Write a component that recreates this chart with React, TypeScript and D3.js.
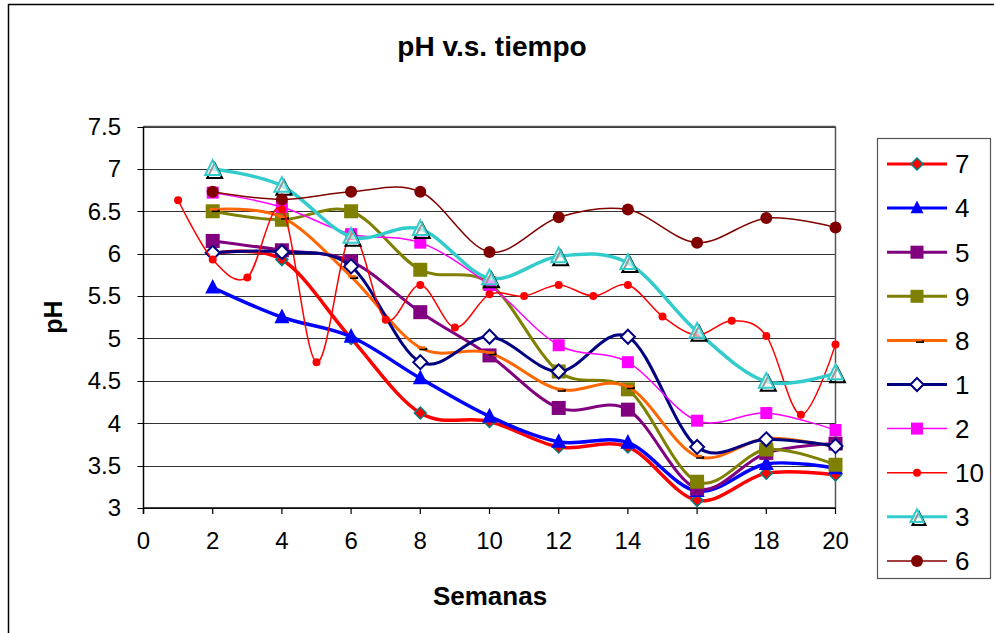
import * as d3 from "d3";

// weeks sampled for most series; series 10 was sampled every week
const weeks = [2, 4, 6, 8, 10, 12, 14, 16, 18, 20];
const weeksDaily = [1, 2, 3, 4, 5, 6, 7, 8, 9, 10, 11, 12, 13, 14, 15, 16, 17, 18, 19, 20];

const s7 = [6.0, 5.93, 5.0, 4.12, 4.02, 3.72, 3.72, 3.09, 3.41, 3.39];
const s4 = [5.6, 5.25, 5.02, 4.53, 4.08, 3.78, 3.77, 3.2, 3.52, 3.47];
const s5 = [6.15, 6.04, 5.91, 5.31, 4.8, 4.18, 4.16, 3.23, 3.65, 3.76];
const s9 = [6.5, 6.4, 6.5, 5.81, 5.65, 4.61, 4.4, 3.31, 3.69, 3.51];
const s8 = [6.52, 6.43, 5.73, 4.89, 4.83, 4.4, 4.43, 3.61, 3.82, 3.72];
const s1 = [6.01, 6.02, 5.85, 4.72, 5.02, 4.61, 5.02, 3.72, 3.81, 3.73];
const s2 = [6.72, 6.55, 6.23, 6.13, 5.63, 4.92, 4.72, 4.03, 4.12, 3.92];
const s10 = [6.63, 5.93, 5.72, 6.52, 4.72, 6.21, 5.22, 5.63, 5.13, 5.52, 5.5, 5.63, 5.5, 5.63, 5.26, 5.04, 5.21, 5.03, 4.1, 4.93];
const s3 = [7.0, 6.8, 6.2, 6.29, 5.71, 5.97, 5.89, 5.08, 4.49, 4.59];
const s6 = [6.73, 6.64, 6.73, 6.73, 6.02, 6.43, 6.52, 6.13, 6.42, 6.31];

const xTicks = [0, 2, 4, 6, 8, 10, 12, 14, 16, 18, 20];
const yTicks = [3, 3.5, 4, 4.5, 5, 5.5, 6, 6.5, 7, 7.5];

type Marker = "diamond" | "triangle" | "square" | "dash" | "openDiamond" | "circle" | "openTriangle";

interface Series {
  name: string;
  xs: number[];
  ys: number[];
  color: string;
  width: number;
  marker: Marker;
  size: number;
}

const series: Series[] = [
  { name: "7", xs: weeks, ys: s7, color: "#FF0000", width: 3.5, marker: "diamond", size: 12 },
  { name: "4", xs: weeks, ys: s4, color: "#0000FF", width: 3.5, marker: "triangle", size: 15 },
  { name: "5", xs: weeks, ys: s5, color: "#800080", width: 3, marker: "square", size: 14 },
  { name: "9", xs: weeks, ys: s9, color: "#808000", width: 3, marker: "square", size: 14 },
  { name: "8", xs: weeks, ys: s8, color: "#FF6600", width: 3, marker: "dash", size: 8 },
  { name: "1", xs: weeks, ys: s1, color: "#000080", width: 3, marker: "openDiamond", size: 14 },
  { name: "2", xs: weeks, ys: s2, color: "#FF00FF", width: 1.5, marker: "square", size: 12 },
  { name: "10", xs: weeksDaily, ys: s10, color: "#FF0000", width: 1.5, marker: "circle", size: 8 },
  { name: "3", xs: weeks, ys: s3, color: "#33CCCC", width: 3.5, marker: "openTriangle", size: 15 },
  { name: "6", xs: weeks, ys: s6, color: "#800000", width: 1.5, marker: "circle", size: 12 },
];

const W = 994;
const H = 633;
const plot = { left: 143.5, right: 835.5, top: 126.5, bottom: 508 };

function triPath(s: number) {
  return `M0,${-s * 0.58}L${s / 2},${s * 0.4}L${-s / 2},${s * 0.4}Z`;
}
function diaPath(s: number) {
  const h = s / 2;
  return `M0,${-h}L${h},0L0,${h}L${-h},0Z`;
}

function MarkerShape({ s, cx, cy }: { s: Series; cx: number; cy: number }) {
  const t = `translate(${cx},${cy})`;
  switch (s.marker) {
    case "diamond":
      return <path transform={t} d={diaPath(s.size)} fill="#FF0000" stroke="#008080" strokeWidth={1.5} />;
    case "triangle":
      return <path transform={t} d={triPath(s.size)} fill={s.color} />;
    case "square":
      return <rect x={cx - s.size / 2} y={cy - s.size / 2} width={s.size} height={s.size} fill={s.color} />;
    case "dash":
      return (
        <g transform={t}>
          <rect x={-1} y={0} width={s.size} height={2.5} fill="#000" />
          <rect x={-3} y={-1.5} width={s.size} height={2.5} fill={s.color} />
        </g>
      );
    case "openDiamond":
      return <path transform={t} d={diaPath(s.size)} fill="#fff" stroke={s.color} strokeWidth={2} />;
    case "circle":
      return <circle cx={cx} cy={cy} r={s.size / 2} fill={s.color} />;
    case "openTriangle":
      return (
        <g transform={t}>
          <path transform="translate(2,3)" d={triPath(s.size)} fill="none" stroke="#000" strokeWidth={2} />
          <path d={triPath(s.size)} fill="#fff" fillOpacity={0.6} stroke={s.color} strokeWidth={2} />
        </g>
      );
  }
}

export default function App() {
  const x = d3.scaleLinear().domain([0, 20]).range([plot.left, plot.right]);
  const y = d3.scaleLinear().domain([3, 7.5]).range([plot.bottom, plot.top]);

  const line = d3
    .line<[number, number]>()
    .x((d) => x(d[0]))
    .y((d) => y(d[1]))
    .curve(d3.curveCardinal.tension(0));

  const font = "Arial, 'Liberation Sans', sans-serif";
  const legendX = 877;
  const legendTop = 138;
  const rowH = 44.1;

  return (
    <svg
      width={W}
      height={H}
      style={{ position: "absolute", left: 0, top: 0, background: "#fff" }}
      fontFamily={font}
    >
      <rect x={0} y={0} width={W} height={H} fill="#fff" />
      <rect x={8.5} y={4.5} width={W + 20} height={H + 20} fill="none" stroke="#000" strokeWidth={1.5} />

      <text x={492} y={56} textAnchor="middle" fontSize={28} fontWeight="bold">
        pH v.s. tiempo
      </text>

      {/* grid */}
      {yTicks.map((t) => (
        <line key={t} x1={plot.left} x2={plot.right} y1={Math.round(y(t)) + 0.5} y2={Math.round(y(t)) + 0.5} stroke="#333" strokeWidth={1} />
      ))}
      <line x1={plot.right} x2={plot.right} y1={plot.top} y2={plot.bottom} stroke="#555" strokeWidth={1.5} />
      <line x1={plot.left} x2={plot.right} y1={plot.top} y2={plot.top} stroke="#555" strokeWidth={1.5} />

      {/* axes */}
      <line x1={plot.left} x2={plot.left} y1={plot.top} y2={plot.bottom + 6} stroke="#000" strokeWidth={1.5} />
      <line x1={plot.left} x2={plot.right} y1={plot.bottom} y2={plot.bottom} stroke="#000" strokeWidth={1.5} />
      {yTicks.map((t) => (
        <g key={t}>
          <line x1={plot.left - 6} x2={plot.left} y1={Math.round(y(t)) + 0.5} y2={Math.round(y(t)) + 0.5} stroke="#000" />
          <text x={121} y={y(t)} dy="0.35em" textAnchor="end" fontSize={24}>
            {t}
          </text>
        </g>
      ))}
      {xTicks.map((t) => (
        <g key={t}>
          <line x1={x(t)} x2={x(t)} y1={plot.bottom} y2={plot.bottom + 6} stroke="#000" strokeWidth={1.2} />
          <text x={x(t)} y={549} textAnchor="middle" fontSize={24}>
            {t}
          </text>
        </g>
      ))}

      <text x={490} y={605} textAnchor="middle" fontSize={26} fontWeight="bold">
        Semanas
      </text>
      <text transform="translate(62,317) rotate(-90)" textAnchor="middle" fontSize={25} fontWeight="bold">
        pH
      </text>

      {/* series */}
      {series.map((s) => {
        const pts = s.xs.map((v, i) => [v, s.ys[i]] as [number, number]);
        return (
          <g key={s.name}>
            <path d={line(pts) ?? ""} fill="none" stroke={s.color} strokeWidth={s.width} strokeLinejoin="round" />
            {pts.map((p, i) => (
              <MarkerShape key={i} s={s} cx={x(p[0])} cy={y(p[1])} />
            ))}
          </g>
        );
      })}

      {/* legend */}
      <rect x={legendX + 0.5} y={legendTop + 0.5} width={113} height={440} fill="#fff" stroke="#555" strokeWidth={1.2} />
      {series.map((s, i) => {
        const cy = legendTop + 26 + i * rowH;
        return (
          <g key={s.name}>
            <line x1={887} x2={947} y1={cy} y2={cy} stroke={s.color} strokeWidth={Math.min(s.width, 3)} />
            <MarkerShape s={{ ...s, size: s.marker === "dash" ? 8 : Math.min(s.size, 13) }} cx={917} cy={cy} />
            <text x={955} y={cy} dy="0.36em" fontSize={26}>
              {s.name}
            </text>
          </g>
        );
      })}
    </svg>
  );
}
